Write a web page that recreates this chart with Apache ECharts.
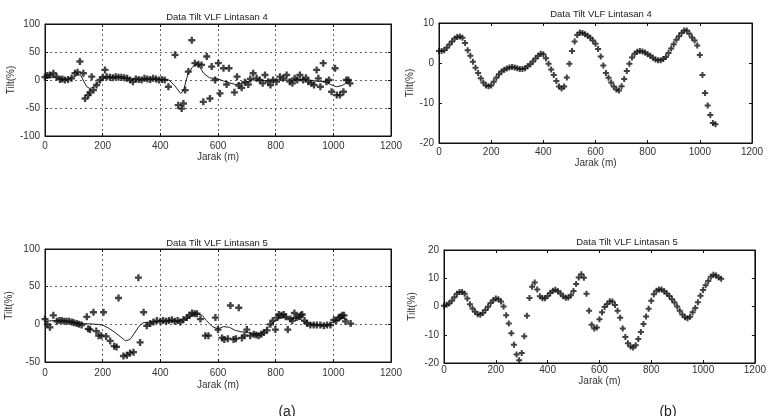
<!DOCTYPE html>
<html><head><meta charset="utf-8">
<script src="https://cdn.jsdelivr.net/npm/echarts@6/dist/echarts.min.js"></script>
<style>html,body{margin:0;padding:0;background:#fff}#c{width:769px;height:416px}</style>
</head><body><div id="c"></div>
<script>
// ---------- DATA ----------
const xTicks = [0, 200, 400, 600, 800, 1000, 1200];
const titleL4 = 'Data Tilt VLF Lintasan 4';
const titleL5 = 'Data Tilt VLF Lintasan 5';
const xName = 'Jarak (m)';
const yName = 'Tilt(%)';

// Lintasan 4, raw tilt [distance, tilt]
const rawL4 = [[0,5],[8,8],[17,9],[29,12],[40,6],[52,1],[60,2],[69,0],[80,1],[92,3],[104,12],[113,14],[121,33],[133,12],[139,-33],[150,-27],[156,-22],[162,6],[168,-18],[179,-9],[191,0],[200,5],[208,18],[214,6],[225,5],[235,4],[245,6],[255,5],[265,5],[275,4],[285,3],[295,0],[305,-3],[315,2],[325,1],[335,0],[345,3],[355,2],[365,1],[375,3],[385,2],[395,0],[405,1],[415,0],[428,-12],[451,45],[462,-45],[474,-51],[480,-42],[486,-18],[497,15],[509,71],[520,30],[532,28],[543,27],[549,-39],[561,42],[572,-33],[578,24],[590,0],[601,30],[607,-24],[619,21],[630,-8],[638,21],[657,-22],[666,6],[672,-10],[682,-14],[693,-4],[705,-8],[712,2],[722,12],[734,3],[745,0],[755,-6],[763,9],[774,-3],[782,-9],[791,0],[803,-3],[815,6],[826,3],[838,9],[849,-3],[858,-6],[866,3],[875,0],[884,9],[895,0],[905,4],[913,-3],[924,-6],[933,-9],[942,18],[948,3],[955,-12],[965,30],[976,-3],[985,0],[994,-21],[1006,21],[1012,-27],[1023,-27],[1035,-21],[1045,0],[1052,0],[1058,-6]];
// Lintasan 4, smoothed line [distance, tilt]
const lineL4 = [[0,3],[20,5],[40,4],[60,1],[80,2],[100,6],[115,10],[125,8],[135,-3],[145,-12],[155,-15],[170,-13],[185,-4],[200,2],[220,4],[260,4],[300,2],[350,1],[400,1],[430,0],[450,-10],[470,-24],[480,-20],[495,10],[510,22],[520,28],[535,25],[550,12],[570,4],[600,2],[620,-2],[640,-5],[660,-8],[680,-6],[700,-3],[720,0],[760,-1],[800,0],[850,0],[900,1],[940,-2],[970,-3],[990,-8],[1010,-12],[1030,-10],[1050,-4]];

// Lintasan 4, filtered tilt (panel b)
const distL4 = [0,10,20,30,40,50,60,70,80,90,100,110,120,130,140,150,160,170,180,190,200,210,220,230,240,250,260,270,280,290,300,310,320,330,340,350,360,370,380,390,400,410,420,430,440,450,460,470,480,490,500,510,520,530,540,550,560,570,580,590,600,610,620,630,640,650,660,670,680,690,700,710,720,730,740,750,760,770,780,790,800,810,820,830,840,850,860,870,880,890,900,910,920,930,940,950,960,970,980,990,1000,1010,1020,1030,1040,1050,1060];
const filtL4 = [3.0,3.0,3.2,3.8,4.6,5.4,6.1,6.5,6.6,6.3,5.0,3.2,1.8,0.3,-1.2,-2.5,-3.8,-4.9,-5.6,-5.8,-5.6,-4.7,-3.7,-2.8,-2.1,-1.7,-1.4,-1.1,-1.0,-1.1,-1.3,-1.5,-1.5,-1.3,-0.8,-0.3,0.4,1.1,1.8,2.3,2.2,1.2,-0.2,-1.6,-3.0,-4.5,-5.9,-6.4,-5.9,-3.6,-0.2,3.0,5.4,7.0,7.6,7.5,7.2,6.8,6.3,5.6,4.8,3.5,1.6,-0.6,-2.5,-3.7,-4.9,-5.9,-6.6,-6.9,-5.8,-4.0,-2.0,-0.2,1.4,2.3,2.8,3.0,2.9,2.6,2.2,1.8,1.3,0.9,0.7,0.7,1.0,1.5,2.5,3.6,4.7,5.8,6.7,7.5,8.1,8.1,7.3,6.4,5.6,4.4,2.0,-3.0,-7.5,-10.6,-13.0,-15.0,-15.3];

// Lintasan 5, raw tilt [distance, tilt]
const rawL5 = [[0,7],[8,0],[17,-4],[29,12],[41,4],[50,5],[58,5],[67,4],[75,4],[84,4],[93,3],[101,2],[110,1],[118,0],[127,-1],[145,10],[150,-6],[156,-7],[168,16],[178,-9],[186,-15],[195,-15],[203,16],[212,-16],[226,-22],[240,-29],[248,-30],[255,35],[272,-42],[284,-41],[295,-38],[307,-37],[324,62],[330,-24],[342,16],[353,-2],[365,1],[376,3],[388,5],[400,4],[410,5],[420,4],[430,5],[440,6],[450,4],[460,5],[469,3],[480,6],[492,9],[501,12],[510,15],[519,14],[527,14],[539,7],[556,-15],[567,-15],[591,9],[600,-7],[614,-18],[622,-20],[634,-19],[643,25],[654,-20],[662,-19],[672,22],[683,-18],[692,-15],[700,-7],[712,-15],[724,-13],[733,-14],[741,-15],[750,-13],[759,-11],[770,-8],[782,0],[790,5],[799,-7],[806,9],[811,13],[820,12],[828,13],[835,10],[842,-7],[851,7],[858,5],[865,15],[872,9],[880,10],[887,12],[892,13],[900,5],[909,1],[920,-1],[932,-1],[943,-1],[955,-1],[967,-2],[978,-1],[990,-1],[1002,6],[1010,5],[1019,9],[1025,10],[1031,12],[1037,12],[1042,4],[1060,1]];
// Lintasan 5, smoothed line [distance, tilt]
const lineL5 = [[0,4],[30,5],[60,4],[100,3],[140,1],[180,0],[200,-1],[220,-5],[240,-10],[260,-16],[280,-22],[295,-20],[310,-12],[325,-3],[340,2],[360,3],[400,4],[440,4],[480,6],[510,11],[530,14],[545,12],[560,5],[580,-3],[600,-6],[620,-3],[640,-4],[660,-8],[680,-10],[700,-10],[720,-12],[740,-13],[760,-9],[780,-2],[800,5],[820,9],[850,8],[880,8],[900,3],[940,0],[980,0],[1000,3],[1030,8],[1050,6]];

// Lintasan 5, filtered tilt (panel b)
const distL5 = [0,10,20,30,40,50,60,70,80,90,100,110,120,130,140,150,160,170,180,190,200,210,220,230,240,250,260,270,280,290,300,310,320,330,340,350,360,370,380,390,400,410,420,430,440,450,460,470,480,490,500,510,520,530,540,550,560,570,580,590,600,610,620,630,640,650,660,670,680,690,700,710,720,730,740,750,760,770,780,790,800,810,820,830,840,850,860,870,880,890,900,910,920,930,940,950,960,970,980,990,1000,1010,1020,1030,1040,1050,1060,1070];
const filtL5 = [0.3,0.6,1.1,2.0,3.3,4.5,5.1,5.1,4.5,2.8,0.8,-0.7,-1.9,-2.7,-2.9,-2.3,-1.2,-0.1,1.2,2.2,2.8,2.6,1.8,0.0,-3.1,-6.0,-9.5,-13.5,-17.0,-19.0,-16.5,-10.5,-3.3,3.0,7.0,8.5,6.0,3.6,2.9,2.9,3.7,4.8,5.6,5.9,5.4,4.6,3.6,3.1,3.2,4.0,5.5,8.0,10.3,11.4,10.2,4.5,-1.5,-6.5,-7.8,-7.4,-4.5,-2.0,-0.2,0.9,1.9,1.8,0.5,-1.5,-4.0,-7.8,-10.8,-13.0,-14.2,-14.5,-13.7,-11.5,-9.0,-6.2,-3.5,-0.8,2.0,4.3,5.6,6.0,6.0,5.4,4.6,3.7,2.6,1.4,0.0,-1.5,-2.8,-3.8,-4.2,-3.6,-2.0,-0.5,1.5,3.8,5.8,7.5,9.0,10.5,11.2,11.0,10.3,9.8];

// ---------- CHART ----------
const FONT = '"Liberation Sans", Arial, sans-serif';
const PLUS = 'path://M3,0H6V3H9V6H6V9H3V6H0V3H3Z';
const chart = echarts.init(document.getElementById('c'), null, {renderer: 'canvas'});

const grids = [
  {left: 45, top: 24, width: 346, height: 112},
  {left: 439, top: 23, width: 313, height: 120},
  {left: 45, top: 249, width: 346, height: 113},
  {left: 444, top: 250, width: 316, height: 113}
].map(g => Object.assign({show: true, borderColor: '#111', borderWidth: 1, backgroundColor: '#fff'}, g));

const plain = v => String(v);

function xAxis(grid, labelMargin, nameGap) {
  return {
    type: 'value', gridIndex: grid, min: xTicks[0], max: xTicks[xTicks.length - 1], interval: 200,
    name: xName, nameLocation: 'middle', nameGap: nameGap,
    nameTextStyle: {fontFamily: FONT, fontSize: 10, color: '#333'},
    axisLine: {show: true, onZero: false, lineStyle: {color: '#111'}},
    axisTick: {show: true, inside: true, length: 3, lineStyle: {color: '#111'}},
    axisLabel: {fontFamily: FONT, fontSize: 10, color: '#333', margin: labelMargin, formatter: plain},
    splitLine: grid % 2 === 0 ? {show: true, lineStyle: {type: [2, 3], color: '#666'}} : {show: false}
  };
}
function xTop(grid) {
  return {
    type: 'value', gridIndex: grid, position: 'top', min: xTicks[0], max: xTicks[xTicks.length - 1], interval: 200,
    axisLine: {show: true, onZero: false, lineStyle: {color: '#111'}}, axisLabel: {show: false}, splitLine: {show: false},
    axisTick: {show: true, inside: true, length: 3, lineStyle: {color: '#111'}}
  };
}
function yAxis(grid, min, max, interval, nameGap) {
  return {
    type: 'value', gridIndex: grid, min: min, max: max, interval: interval,
    name: yName, nameLocation: 'middle', nameGap: nameGap,
    nameTextStyle: {fontFamily: FONT, fontSize: 10, color: '#333'},
    axisLine: {show: true, onZero: false, lineStyle: {color: '#111'}},
    axisTick: {show: true, inside: true, length: 3, lineStyle: {color: '#111'}},
    axisLabel: {fontFamily: FONT, fontSize: 10, color: '#333', margin: 5, formatter: plain},
    splitLine: grid % 2 === 0 ? {show: true, lineStyle: {type: [2, 3], color: '#666'}} : {show: false}
  };
}
function yRight(grid, min, max, interval) {
  return {
    type: 'value', gridIndex: grid, position: 'right', min: min, max: max, interval: interval,
    axisLine: {show: true, onZero: false, lineStyle: {color: '#111'}}, axisLabel: {show: false}, splitLine: {show: false},
    axisTick: {show: true, inside: true, length: 3, lineStyle: {color: '#111'}}
  };
}

function scatter(grid, data, size) {
  return {
    type: 'scatter', xAxisIndex: grid, yAxisIndex: grid, data: data,
    symbol: PLUS, symbolSize: size, itemStyle: {color: '#111'}, silent: true, z: 3
  };
}
function line(grid, data) {
  return {
    type: 'line', xAxisIndex: grid, yAxisIndex: grid, data: data, showSymbol: false,
    lineStyle: {color: '#222', width: 1}, silent: true, z: 2
  };
}

const titleStyle = {fontFamily: FONT, fontSize: 9.5, fontWeight: 'normal', color: '#222'};
const capStyle = {fontFamily: FONT, fontSize: 14, fontWeight: 'normal', color: '#222'};

chart.setOption({
  animation: false,
  backgroundColor: '#fff',
  title: [
    {text: titleL4, left: 212, top: 7, textAlign: 'center', textStyle: titleStyle},
    {text: titleL4, left: 596, top: 4, textAlign: 'center', textStyle: titleStyle},
    {text: titleL5, left: 212, top: 233, textAlign: 'center', textStyle: titleStyle},
    {text: titleL5, left: 622, top: 232, textAlign: 'center', textStyle: titleStyle},
    {text: '(a)', left: 282, top: 400, textAlign: 'center', textStyle: capStyle},
    {text: '(b)', left: 663, top: 400, textAlign: 'center', textStyle: capStyle}
  ],
  grid: grids,
  xAxis: [xAxis(0, 5, 16), xAxis(1, 4, 14), xAxis(2, 6, 18), xAxis(3, 2, 10),
          xTop(0), xTop(1), xTop(2), xTop(3)],
  yAxis: [yAxis(0, -100, 100, 50, 28), yAxis(1, -20, 10, 10, 22), yAxis(2, -50, 100, 50, 31), yAxis(3, -20, 20, 10, 27),
          yRight(0, -100, 100, 50), yRight(1, -20, 10, 10), yRight(2, -50, 100, 50), yRight(3, -20, 20, 10)],
  series: [
    line(0, lineL4),
    scatter(0, rawL4, 7),
    scatter(1, distL4.map((d, i) => [d, filtL4[i]]), 6),
    line(2, lineL5),
    scatter(2, rawL5, 7),
    scatter(3, distL5.map((d, i) => [d, filtL5[i]]), 6)
  ]
});
</script>
</body></html>
